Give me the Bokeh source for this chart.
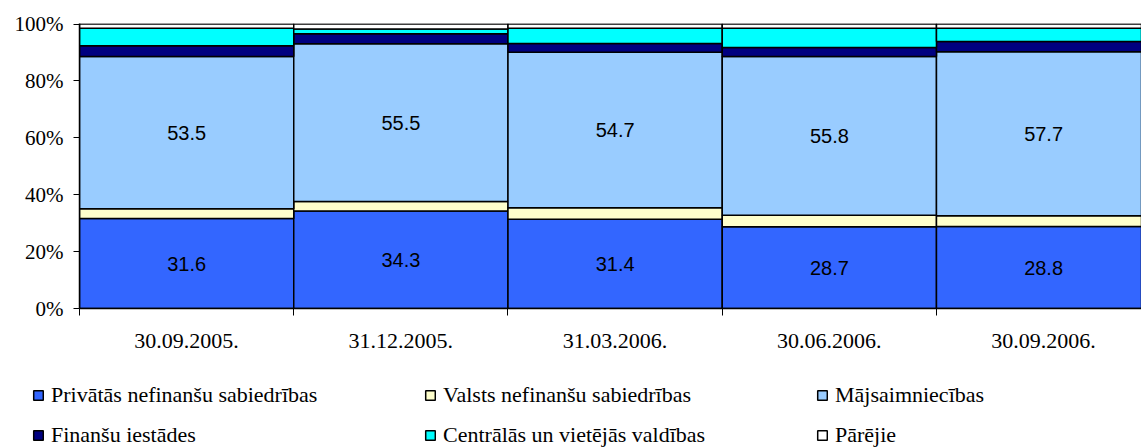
import numpy as np
from bokeh.plotting import figure
from bokeh.layouts import column
from bokeh.models import (ColumnDataSource, Range1d, FixedTicker, PrintfTickFormatter,
                          Legend, LegendItem)
from bokeh.core.properties import value
from bokeh.embed import file_html
from bokeh.resources import INLINE

# ---- data ----
categories = ["30.09.2005.", "31.12.2005.", "31.03.2006.", "30.06.2006.", "30.09.2006."]
series_names = ["Privātās nefinanšu sabiedrības", "Valsts nefinanšu sabiedrības",
                "Mājsaimniecības", "Finanšu iestādes",
                "Centrālās un vietējās valdības", "Pārējie"]
privatas = [31.6, 34.3, 31.4, 28.7, 28.8]
valsts = [3.5, 3.3, 4.0, 4.1, 3.8]
majsaimniecibas = [53.5, 55.5, 54.7, 55.8, 57.7]
finansu = [3.8, 3.5, 3.1, 3.2, 3.6]
centralas = [6.1, 1.7, 5.3, 6.7, 4.6]
parejie = [1.5, 1.7, 1.5, 1.5, 1.5]
y_ticks = [0, 20, 40, 60, 80, 100]

colors = ["#3366FF", "#FFFFCC", "#99CCFF", "#000080", "#00FFFF", "#FFFFFF"]
series = [privatas, valsts, majsaimniecibas, finansu, centralas, parejie]
keys = ["s0", "s1", "s2", "s3", "s4", "s5"]

SERIF = "'Liberation Serif', 'Times New Roman', serif"
SANS = "'Liberation Sans', Arial, sans-serif"

xpos = [i + 0.5 for i in range(len(categories))]
data = {"x": xpos}
for k, s in zip(keys, series):
    data[k] = s
source = ColumnDataSource(data)

W = 1141
H_MAIN = 363
H_LEG = 85

p = figure(width=W, height=H_MAIN, output_backend="svg", toolbar_location=None,
           x_range=Range1d(0, 4.957), y_range=Range1d(0, 100.2),
           min_border_left=79, min_border_right=0, min_border_top=23,
           min_border_bottom=55)
p.frame_align = False
p.outline_line_color = None
p.xgrid.grid_line_color = None
p.ygrid.grid_line_color = None
p.background_fill_color = "white"
p.border_fill_color = "white"

renderers = p.vbar_stack(keys, x="x", width=1.0, color=colors, line_color="black",
                         line_width=1.5, source=source)

# labels on private & households segments
priv = np.array(privatas)
val = np.array(valsts)
maj = np.array(majsaimniecibas)
lab_src = ColumnDataSource({
    "x": xpos + xpos,
    "y": list(priv / 2) + list(priv + val + maj / 2),
    "t": ["%.1f" % v for v in privatas] + ["%.1f" % v for v in majsaimniecibas],
})
p.text(x="x", y="y", text="t", source=lab_src, text_align="center",
       text_baseline="middle", text_font=value(SANS),
       text_font_size="20px", text_color="black")

# x axis
xt = FixedTicker(ticks=xpos, minor_ticks=list(range(len(categories) + 1)))
p.xaxis.ticker = xt
p.xaxis.major_label_overrides = {x: c for x, c in zip(xpos, categories)}
p.xaxis.major_tick_line_color = None
p.xaxis.major_tick_out = 0
p.xaxis.major_tick_in = 0
p.xaxis.minor_tick_out = 7
p.xaxis.minor_tick_in = 0
p.xaxis.minor_tick_line_color = "black"
p.xaxis.axis_line_color = "black"
p.xaxis.axis_line_width = 1.5
p.xaxis.major_label_standoff = 18
p.xaxis.major_label_text_font = SERIF
p.xaxis.major_label_text_font_size = "22px"
p.xaxis.major_label_text_color = "black"

# y axis
p.yaxis.ticker = FixedTicker(ticks=y_ticks, minor_ticks=[])
p.yaxis.formatter = PrintfTickFormatter(format="%d%%")
p.yaxis.major_tick_out = 6
p.yaxis.major_tick_in = 0
p.yaxis.major_tick_line_color = "black"
p.yaxis.axis_line_color = "black"
p.yaxis.axis_line_width = 1.5
p.yaxis.major_label_standoff = 10
p.yaxis.major_label_text_font = SERIF
p.yaxis.major_label_text_font_size = "21px"
p.yaxis.major_label_text_color = "black"

# legend figure (below the chart)
q = figure(width=W, height=H_LEG, output_backend="svg", toolbar_location=None,
           x_range=Range1d(0, W), y_range=Range1d(0, H_LEG),
           x_axis_location=None, y_axis_location=None, min_border=0)
q.frame_align = False
q.outline_line_color = None
q.xgrid.grid_line_color = None
q.ygrid.grid_line_color = None
q.border_fill_color = "white"

# legend swatches: glyphs that carry the series colours but draw nothing themselves
swatches = [q.vbar(x=[np.nan], top=[np.nan], width=1, fill_color=c, line_color="black",
                   line_width=1.5) for c in colors]
items = [LegendItem(label=n, renderers=[r]) for n, r in zip(series_names, swatches)]
legend = Legend(items=items, location=(32, 0), orientation="horizontal", ncols=3,
                glyph_width=12, glyph_height=12, label_standoff=7, spacing=14,
                label_width=359, padding=0, margin=0,
                border_line_color=None, background_fill_alpha=0,
                label_text_font=SERIF, label_text_font_size="22px",
                label_text_color="black")
q.add_layout(legend, "center")

open("out.html", "w").write(file_html(column(p, q), INLINE))
